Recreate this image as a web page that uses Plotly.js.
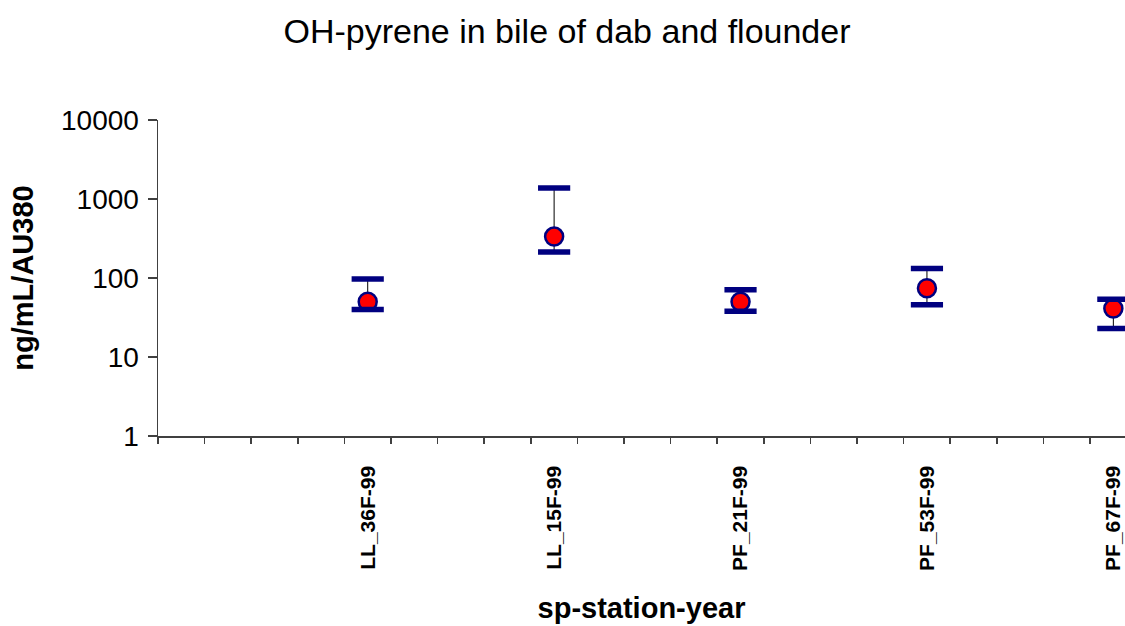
<!DOCTYPE html>
<html>
<head>
<meta charset="utf-8">
<script src="https://cdn.plot.ly/plotly-3.0.1.min.js"></script>
<style>html,body{margin:0;padding:0;background:#fff;}#chart{width:1125px;height:626px;}</style>
</head>
<body>
<div id="chart"></div>
<script>
// Category slots along the x axis (blank slots carry no data)
const categories = ['', '', '', '', 'LL_36F-99', '', '', '', 'LL_15F-99', '', '', '', 'PF_21F-99', '', '', '', 'PF_53F-99', '', '', '', 'PF_67F-99'];
// Mean OH-pyrene (ng/mL/AU380)
const meanValues  = [null, null, null, null, 50, null, null, null, 334, null, null, null, 50, null, null, null, 74, null, null, null, 41];
// Upper and lower error-bar limits
const upperValues = [null, null, null, null, 97, null, null, null, 1380, null, null, null, 71, null, null, null, 132, null, null, null, 54];
const lowerValues = [null, null, null, null, 40, null, null, null, 213, null, null, null, 38, null, null, null, 46, null, null, null, 23];

const xIdx = categories.map((c, i) => i);
const labelIdx = xIdx.filter(i => categories[i] !== '');
const errPlus = meanValues.map((v, i) => v == null ? null : upperValues[i] - v);
const errMinus = meanValues.map((v, i) => v == null ? null : v - lowerValues[i]);

const FONT = 'Liberation Sans, Arial, sans-serif';
const NAVY = '#000080';

const traces = [
  {
    x: xIdx, y: meanValues, type: 'scatter', mode: 'markers',
    marker: {size: 18, color: '#ff0000', line: {color: NAVY, width: 2.5}},
    error_y: {type: 'data', symmetric: false, array: errPlus, arrayminus: errMinus, color: '#000000', thickness: 1, width: 0},
    cliponaxis: false, hoverinfo: 'skip', showlegend: false
  },
  {
    x: xIdx.concat(xIdx), y: upperValues.concat(lowerValues), type: 'scatter', mode: 'markers',
    marker: {symbol: 'line-ew', size: 23, color: NAVY, line: {color: NAVY, width: 5.5}},
    cliponaxis: false, hoverinfo: 'skip', showlegend: false
  }
];

const layout = {
  width: 1125, height: 626,
  margin: {l: 158, r: 0, t: 120, b: 190},
  paper_bgcolor: '#ffffff', plot_bgcolor: '#ffffff',
  font: {family: FONT, color: '#000000'},
  showlegend: false,
  title: {text: 'OH-pyrene in bile of dab and flounder', font: {family: FONT, size: 34, color: '#000'},
          x: 0.504, xanchor: 'center', xref: 'container', y: 0.95, yanchor: 'middle', yref: 'container'},
  xaxis: {
    range: [-0.5, 20.25], showgrid: false, zeroline: false,
    showline: true, linecolor: '#404040', linewidth: 1.5,
    tickmode: 'array', tickvals: labelIdx, ticktext: labelIdx.map(i => categories[i]),
    ticks: '', tickangle: -90, ticklabelstandoff: 20,
    tickfont: {family: FONT, size: 21, color: '#000', weight: 'bold'},
    minor: {tickmode: 'linear', tick0: -0.5, dtick: 1, ticks: 'outside', ticklen: 6, tickcolor: '#404040', tickwidth: 1.5, showgrid: false},
    title: {text: 'sp-station-year', font: {family: FONT, size: 29, color: '#000', weight: 'bold'}, standoff: 27},
    fixedrange: true
  },
  yaxis: {
    type: 'log', range: [0, 4], showgrid: false, zeroline: false,
    showline: true, linecolor: '#404040', linewidth: 1.5,
    tickmode: 'array', tickvals: [1, 10, 100, 1000, 10000], ticktext: ['1', '10', '100', '1000', '10000'],
    ticks: 'outside', ticklen: 9, tickcolor: '#404040', tickwidth: 1.5, ticklabelstandoff: 3,
    tickfont: {family: FONT, size: 28, color: '#000'},
    title: {text: 'ng/mL/AU380', font: {family: FONT, size: 29, color: '#000', weight: 'bold'}, standoff: 19},
    fixedrange: true
  }
};

Plotly.newPlot('chart', traces, layout, {displayModeBar: false, staticPlot: true});
</script>
</body>
</html>
